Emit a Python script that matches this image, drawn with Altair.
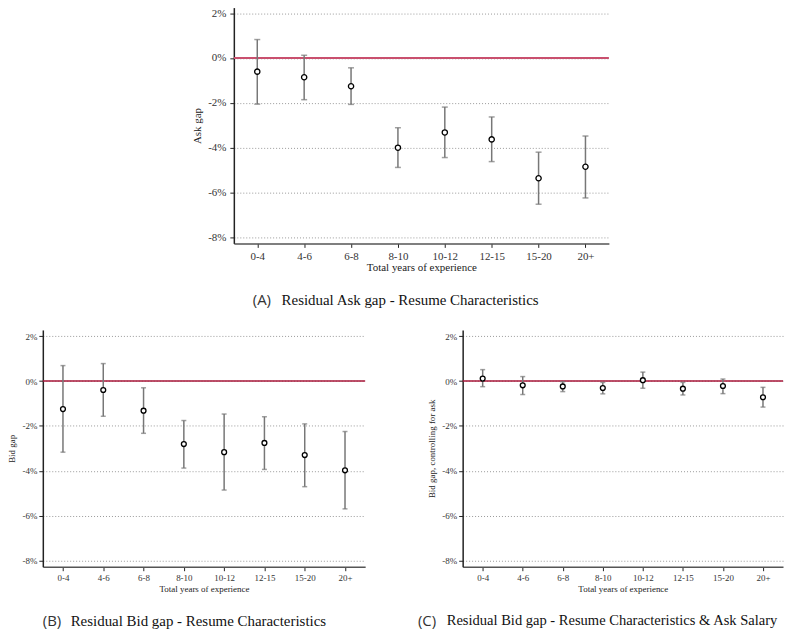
import altair as alt
import pandas as pd

cats = ["0-4", "4-6", "6-8", "8-10", "10-12", "12-15", "15-20", "20+"]

ask_est = [-0.61, -0.86, -1.26, -4.00, -3.32, -3.63, -5.36, -4.85]
ask_lo = [-2.06, -1.86, -2.07, -4.88, -4.44, -4.62, -6.52, -6.24]
ask_hi = [0.82, 0.12, -0.44, -3.11, -2.19, -2.63, -4.20, -3.48]

bid_est = [-1.25, -0.40, -1.32, -2.81, -3.17, -2.76, -3.30, -3.98]
bid_lo = [-3.17, -1.57, -2.33, -3.88, -4.86, -3.94, -4.71, -5.70]
bid_hi = [0.69, 0.78, -0.30, -1.76, -1.47, -1.59, -1.91, -2.25]

bidc_est = [0.11, -0.19, -0.24, -0.31, 0.04, -0.34, -0.22, -0.72]
bidc_lo = [-0.25, -0.60, -0.47, -0.57, -0.32, -0.62, -0.56, -1.16]
bidc_hi = [0.51, 0.20, -0.03, -0.06, 0.40, -0.06, 0.09, -0.28]

y_ticks = [-8, -6, -4, -2, 0, 2]
x_title = "Total years of experience"

SERIF = "Liberation Serif"
SANS = "Open Sans"


def panel(est, lo, hi, ytitle, letter, caption, width, height, domain, fs,
          zero_color, zero_width, cap_xy, cap_fs, tick_w, pt_size, lab_pad, t_pad, xt_pad):
    df = pd.DataFrame({"cat": cats, "est": est, "lo": lo, "hi": hi})
    xenc = alt.X(
        "cat:N", sort=cats,
        scale=alt.Scale(type="point", padding=0.5),
        axis=alt.Axis(title=x_title, labelAngle=0, grid=False,
                      domainColor="#555", domainWidth=1.5,
                      tickColor="#222", tickSize=4, labelPadding=3,
                      labelFont=SERIF, labelFontSize=fs, labelColor="#333",
                      titleFont=SERIF, titleFontSize=fs, titleFontWeight="normal",
                      titleColor="#222", titlePadding=xt_pad),
    )
    yscale = alt.Scale(domain=domain, nice=False, zero=False)
    yaxis = alt.Axis(values=y_ticks, labelExpr="datum.value + '%'",
                     grid=True, gridDash=[1, 2], gridColor="#999", gridWidth=1,
                     domainColor="#222", domainWidth=1.5,
                     tickColor="#222", tickSize=4, labelPadding=lab_pad,
                     labelFont=SERIF, labelFontSize=fs, labelColor="#333",
                     title=ytitle, titleFont=SERIF, titleFontSize=fs,
                     titleFontWeight="normal", titleColor="#222", titlePadding=t_pad)
    base = alt.Chart(df)
    zero = alt.Chart(pd.DataFrame({"z": [0]})).mark_rule(
        color=zero_color, strokeWidth=zero_width).encode(
        y=alt.Y("z:Q", scale=yscale, axis=yaxis))
    bars = base.mark_rule(color="#777", strokeWidth=1.5).encode(
        x=xenc, y=alt.Y("lo:Q", scale=yscale, axis=yaxis), y2="hi:Q")
    cap_lo = base.mark_tick(color="#777", size=tick_w, thickness=1.5).encode(
        x=xenc, y=alt.Y("lo:Q", scale=yscale, axis=yaxis))
    cap_hi = base.mark_tick(color="#777", size=tick_w, thickness=1.5).encode(
        x=xenc, y=alt.Y("hi:Q", scale=yscale, axis=yaxis))
    pts = base.mark_point(filled=True, fill="white", stroke="black",
                          strokeWidth=1.3, size=pt_size, opacity=1).encode(
        x=xenc, y=alt.Y("est:Q", scale=yscale, axis=yaxis))
    lx, tx, cy = cap_xy
    t1 = alt.Chart(pd.DataFrame({"t": [letter]})).mark_text(
        align="left", baseline="middle", font=SANS, fontSize=15, color="#333").encode(
        x=alt.value(lx), y=alt.value(cy), text="t:N")
    t2 = alt.Chart(pd.DataFrame({"t": [caption]})).mark_text(
        align="left", baseline="middle", font=SERIF, fontSize=cap_fs, color="#111").encode(
        x=alt.value(tx), y=alt.value(cy), text="t:N")
    return alt.layer(zero, bars, cap_lo, cap_hi, pts, t1, t2).properties(
        width=width, height=height)


top = panel(ask_est, ask_lo, ask_hi, "Ask gap", "(A)",
            "Residual Ask gap - Resume Characteristics",
            377, 237, [-8.266, 2.244], 11, "#c9506e", 2, (19, 48, 294), 15,
            6, 28, 4, 5, 0)
bl = panel(bid_est, bid_lo, bid_hi, "Bid gap", "(B)",
           "Residual Bid gap - Resume Characteristics",
           324, 238, [-8.28, 2.28], 9, "#a8173a", 1.5, (0, 28, 293), 15,
           5, 24, 2, 5, 1.5)
br = panel(bidc_est, bidc_lo, bidc_hi, "Bid gap, controlling for ask", "(C)",
           "Residual Bid gap - Resume Characteristics & Ask Salary",
           322, 238, [-8.28, 2.28], 9, "#a8173a", 1.5, (-45, -16, 293), 14.6,
           5, 24, 2, 5, 1.5)

spacer = alt.Chart(pd.DataFrame({"a": [0]})).mark_point(opacity=0).encode(
    x=alt.value(60), y=alt.value(120)).properties(width=149, height=237)

chart = alt.vconcat(
    alt.hconcat(spacer, top, spacing=0),
    alt.hconcat(bl, br, spacing=52),
    spacing=22,
).properties(padding={"top": -3, "left": 0, "right": 0, "bottom": 0}).configure_view(stroke=None)

chart.save("out.html", embed_options={"renderer": "svg", "actions": False})
